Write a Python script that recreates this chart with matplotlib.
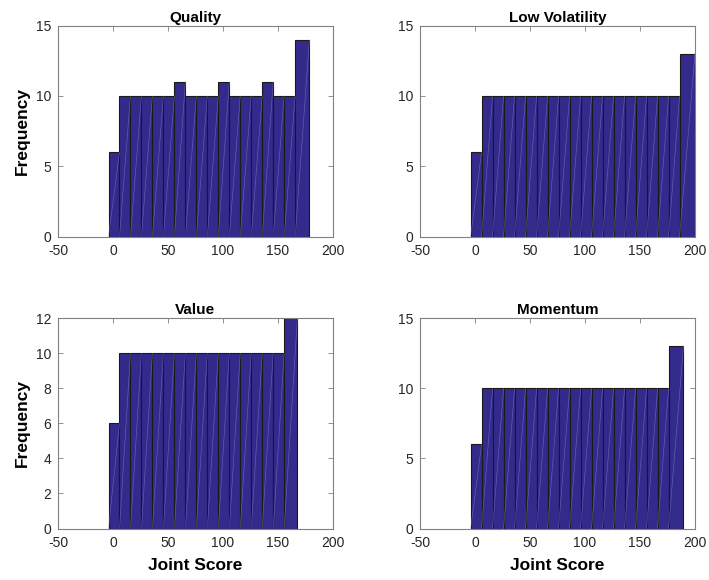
import matplotlib
matplotlib.use("Agg")
import matplotlib.pyplot as plt

plt.rcParams['font.family'] = ['Liberation Sans', 'DejaVu Sans']
plt.rcParams['axes.unicode_minus'] = False

titles = ["Quality", "Low Volatility", "Value", "Momentum"]

quality_edges = [-4, 6, 16, 26, 36, 46, 56, 66, 76, 86, 96, 106, 116, 126, 136, 146, 156, 166, 179]
quality_counts = [6, 10, 10, 10, 10, 10, 11, 10, 10, 10, 11, 10, 10, 10, 11, 10, 10, 14]

lowvol_edges = [-4, 6, 16, 26, 36, 46, 56, 66, 76, 86, 96, 106, 116, 126, 136, 146, 156, 166, 176, 186, 200]
lowvol_counts = [6, 10, 10, 10, 10, 10, 10, 10, 10, 10, 10, 10, 10, 10, 10, 10, 10, 10, 10, 13]

value_edges = [-4, 6, 16, 26, 36, 46, 56, 66, 76, 86, 96, 106, 116, 126, 136, 146, 156, 168]
value_counts = [6, 10, 10, 10, 10, 10, 10, 10, 10, 10, 10, 10, 10, 10, 10, 10, 12]

momentum_edges = [-4, 6, 16, 26, 36, 46, 56, 66, 76, 86, 96, 106, 116, 126, 136, 146, 156, 166, 176, 189.5]
momentum_counts = [6, 10, 10, 10, 10, 10, 10, 10, 10, 10, 10, 10, 10, 10, 10, 10, 10, 10, 13]

x_ticks = [-50, 0, 50, 100, 150, 200]
y_ticks_list = [[0, 5, 10, 15], [0, 5, 10, 15], [0, 2, 4, 6, 8, 10, 12], [0, 5, 10, 15]]
y_max_list = [15, 15, 12, 15]

edges_list = [quality_edges, lowvol_edges, value_edges, momentum_edges]
counts_list = [quality_counts, lowvol_counts, value_counts, momentum_counts]

W, H = 709, 580
fig = plt.figure(figsize=(W / 100, H / 100), dpi=100)

def frac(l, t, r, b):
    return [l / W, 1 - b / H, (r - l) / W, (b - t) / H]

rects = [frac(58, 25.7, 332.5, 236.5), frac(420, 25.7, 695, 236.5),
         frac(58, 318.3, 332.5, 528.5), frac(420, 318.3, 695, 528.5)]

bar_color = '#332a8c'
axis_color = '#808080'
tick_label_color = '#262626'

for i in range(4):
    ax = fig.add_axes(rects[i])
    edges = edges_list[i]
    counts = counts_list[i]
    lefts = edges[:-1]
    widths = [edges[k + 1] - edges[k] for k in range(len(counts))]
    ax.bar(lefts, counts, width=widths, align='edge', color=bar_color,
           edgecolor='#1a1a1a', linewidth=0.8, zorder=2)
    for k in range(len(counts)):
        ax.plot([edges[k], edges[k + 1]], [0, counts[k]], color='#9a94dc',
                lw=0.45, alpha=0.5, zorder=3)
    ax.set_xlim(-50, 200)
    ax.set_ylim(0, y_max_list[i])
    ax.set_xticks(x_ticks)
    ax.set_yticks(y_ticks_list[i])
    ax.tick_params(direction='in', top=True, right=True, length=3.5, width=0.6,
                   colors=axis_color, labelcolor=tick_label_color, labelsize=10)
    ax.tick_params(axis='x', pad=5.5)
    ax.tick_params(axis='y', pad=5)
    for s in ax.spines.values():
        s.set_color(axis_color)
        s.set_linewidth(0.8)
    ax.set_title(titles[i], fontsize=11, fontweight='bold', pad=3)
    if i in (0, 2):
        ax.set_ylabel('Frequency', fontsize=12.5, fontweight='bold')
        ax.yaxis.set_label_coords(-0.103, 0.5)
    if i in (2, 3):
        ax.set_xlabel('Joint Score', fontsize=12.5, fontweight='bold')
        ax.xaxis.set_label_coords(0.5, -0.138)

fig.savefig('out.png', dpi=100)
